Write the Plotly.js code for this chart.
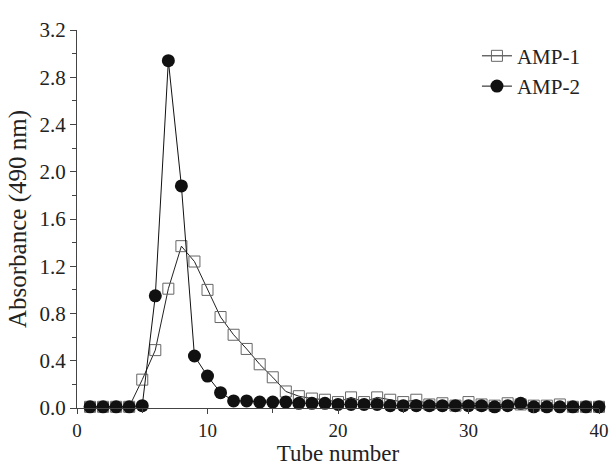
<!DOCTYPE html>
<html><head><meta charset="utf-8">
<script src="https://cdn.plot.ly/plotly-3.0.1.min.js"></script>
<style>html,body{margin:0;padding:0;background:#fff}#chart{width:609px;height:466px}</style>
</head><body><div id="chart"></div>
<script>
const tubes = [1,2,3,4,5,6,7,8,9,10,11,12,13,14,15,16,17,18,19,20,21,22,23,24,25,26,27,28,29,30,31,32,33,34,35,36,37,38,39,40];
const amp1 = [0.01,0.01,0.01,0.01,0.24,0.49,1.01,1.37,1.24,1.00,0.77,0.62,0.50,0.37,0.26,0.14,0.10,0.08,0.07,0.05,0.09,0.05,0.09,0.07,0.05,0.07,0.03,0.04,0.02,0.05,0.03,0.02,0.04,0.03,0.02,0.02,0.03,0.01,0.01,0.01];
const amp2 = [0.01,0.01,0.01,0.01,0.02,0.95,2.94,1.88,0.44,0.27,0.13,0.06,0.06,0.05,0.05,0.05,0.04,0.04,0.04,0.03,0.03,0.03,0.03,0.02,0.02,0.02,0.02,0.02,0.02,0.02,0.02,0.01,0.02,0.04,0.01,0.01,0.01,0.01,0.01,0.01];
const yTicks = [0,0.4,0.8,1.2,1.6,2.0,2.4,2.8,3.2];
const yTickText = ['0.0','0.4','0.8','1.2','1.6','2.0','2.4','2.8','3.2'];
const xTicks = [0,10,20,30,40];
const font = "'Liberation Serif', 'DejaVu Serif', serif";
const traces = [
  {x: tubes, y: amp1, name: 'AMP-1', mode: 'lines+markers', cliponaxis: false,
   line: {color: '#222', width: 1},
   marker: {symbol: 'square-open', size: 11, color: '#666', line: {width: 1, color: '#666'}}},
  {x: tubes, y: amp2, name: 'AMP-2', mode: 'lines+markers', cliponaxis: false,
   line: {color: '#111', width: 1},
   marker: {symbol: 'circle', size: 13, color: '#111'}}
];
const layout = {
  width: 609, height: 466,
  margin: {l: 77, r: 10, t: 30, b: 58},
  paper_bgcolor: '#fff', plot_bgcolor: '#fff',
  font: {family: font, color: '#222', size: 21},
  showlegend: true,
  legend: {x: 0.975, y: 0.985, xanchor: 'right', yanchor: 'top', font: {size: 21, family: font}, bgcolor: 'rgba(0,0,0,0)', tracegroupgap: 0, itemwidth: 30},
  xaxis: {range: [0, 40], tickvals: xTicks, ticks: 'outside', ticklen: 5, tickwidth: 1, tickcolor: '#444',
    minor: {dtick: 5, tick0: 0, ticks: 'outside', ticklen: 4, tickcolor: '#444'},
    showline: true, linecolor: '#444', linewidth: 1, showgrid: false, zeroline: false,
    ticklabeloverflow: 'allow',
    tickfont: {size: 19, family: font},
    title: {text: 'Tube number', font: {size: 23, family: font}, standoff: 5}},
  yaxis: {range: [0, 3.2], tickvals: yTicks, ticktext: yTickText,
    ticks: 'outside', ticklen: 6, tickwidth: 1, tickcolor: '#444',
    minor: {dtick: 0.2, tick0: 0, ticks: 'outside', ticklen: 4, tickcolor: '#444'},
    showline: true, linecolor: '#444', linewidth: 1, showgrid: false, zeroline: false,
    ticklabeloverflow: 'allow',
    tickfont: {size: 21, family: font},
    title: {text: 'Absorbance (490 nm)', font: {size: 25, family: font}, standoff: 5}}
};
Plotly.newPlot('chart', traces, layout, {staticPlot: true});
</script></body></html>
